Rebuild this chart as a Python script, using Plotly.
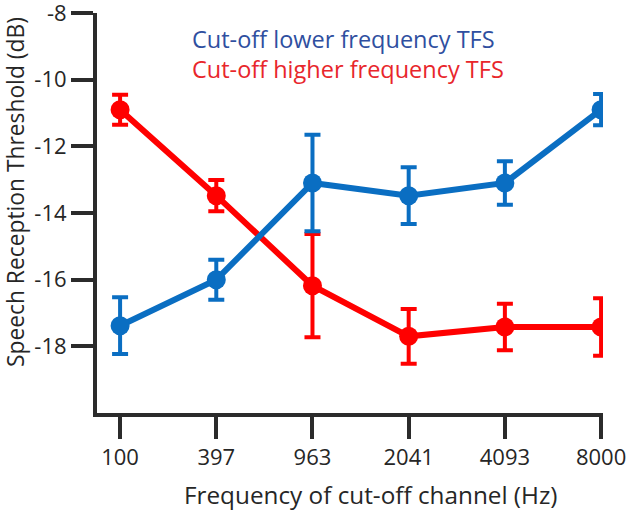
import plotly.graph_objects as go

categories = ["100", "397", "963", "2041", "4093", "8000"]
lower_mean = [-17.38, -16.0, -13.1, -13.48, -13.1, -10.9]
lower_err = [0.85, 0.6, 1.45, 0.85, 0.65, 0.47]
higher_mean = [-10.9, -13.48, -16.18, -17.7, -17.42, -17.42]
higher_err = [0.45, 0.47, 1.55, 0.82, 0.7, 0.86]
y_ticks = [-18, -16, -14, -12, -10, -8]
y_tick_text = ["-18", "-16", "-14", "-12", "-10", "-8"]

BLUE = "#0A6EC2"
RED = "#FF0000"
AXIS = "#2B2B2B"
TXT = "#262626"
FONT = "Open Sans"

L, R, T, B = 97, 27, 13, 98
W, H = 630, 511
PW, PH = W - L - R, H - T - B


def px_x(p):
    return (p - L) / PW


def px_y(p):
    return (H - B - p) / PH


x_idx = list(range(len(categories)))

fig = go.Figure()
fig.add_trace(go.Scatter(
    x=x_idx, y=higher_mean, mode="lines+markers",
    line=dict(color=RED, width=6),
    marker=dict(color=RED, size=19),
    error_y=dict(type="data", array=higher_err, color=RED, thickness=4, width=8),
    name="Cut-off higher frequency TFS", showlegend=False,
))
fig.add_trace(go.Scatter(
    x=x_idx, y=lower_mean, mode="lines+markers",
    line=dict(color=BLUE, width=6),
    marker=dict(color=BLUE, size=19),
    error_y=dict(type="data", array=lower_err, color=BLUE, thickness=4, width=8),
    name="Cut-off lower frequency TFS", showlegend=False,
))

fig.add_annotation(x=px_x(190), y=-8.79, xref="paper", yref="y",
                   text="Cut-off lower frequency TFS", showarrow=False,
                   xanchor="left", yanchor="middle",
                   font=dict(family=FONT, size=23.5, color="#2F4FA0"))
fig.add_annotation(x=px_x(190), y=-9.69, xref="paper", yref="y",
                   text="Cut-off higher frequency TFS", showarrow=False,
                   xanchor="left", yanchor="middle",
                   font=dict(family=FONT, size=23.5, color="#E8262B"))
# axis titles
fig.add_annotation(x=px_x(371), y=px_y(494), xref="paper", yref="paper",
                   text="Frequency of cut-off channel (Hz)", showarrow=False,
                   xanchor="center", yanchor="middle",
                   font=dict(family=FONT, size=24.3, color=TXT))
fig.add_annotation(x=px_x(15), y=px_y(192), xref="paper", yref="paper",
                   text="Speech Reception Threshold (dB)", showarrow=False,
                   textangle=-90, xanchor="center", yanchor="middle",
                   font=dict(family=FONT, size=22.8, color=TXT))

fig.update_layout(
    width=W, height=H,
    margin=dict(l=L, r=R, t=T, b=B),
    plot_bgcolor="white", paper_bgcolor="white",
    font=dict(family=FONT, size=22, color=TXT),
    xaxis=dict(
        range=[-0.24, 5.02], tickmode="array", tickvals=x_idx, ticktext=categories,
        showgrid=False, zeroline=False, showline=True, linecolor=AXIS, linewidth=4,
        ticks="outside", ticklen=22, tickwidth=4, tickcolor=AXIS, automargin=False,
        ticklabeloverflow="allow",
        tickfont=dict(family=FONT, size=22, color=TXT),
    ),
    yaxis=dict(
        range=[-20, -8], tickmode="array", tickvals=y_ticks, ticktext=y_tick_text,
        showgrid=False, zeroline=False, showline=True, linecolor=AXIS, linewidth=4,
        ticks="outside", ticklen=22, tickwidth=4, tickcolor=AXIS, automargin=False,
        ticklabeloverflow="allow",
        tickfont=dict(family=FONT, size=22, color=TXT),
    ),
)

fig.write_html("out.html", config={"displayModeBar": False},
               post_script="document.body.style.margin='0px';")
